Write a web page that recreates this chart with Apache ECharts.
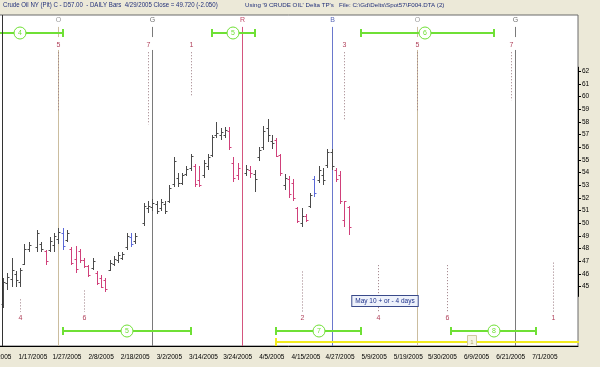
<!DOCTYPE html>
<html><head><meta charset="utf-8">
<script src="https://cdn.jsdelivr.net/npm/echarts@6/dist/echarts.min.js"></script>
<style>html,body{margin:0;padding:0;background:#ece9d8;}#c{width:600px;height:367px;}</style>
</head><body><div id="c"></div>
<script>
// ---------- data ----------
const dateLabels = ['1/5/2005','1/17/2005','1/27/2005','2/8/2005','2/18/2005','3/2/2005','3/14/2005','3/24/2005','4/5/2005','4/15/2005','4/27/2005','5/9/2005','5/19/2005','5/30/2005','6/9/2005','6/21/2005','7/1/2005'];
const dateLabelIdx = [0,8,16,24,32,40,48,56,64,72,80,88,96,104,112,120,128];
const priceTicks = [45,46,47,48,49,50,51,52,53,54,55,56,57,58,59,60,61,62];

const barIdx   = [1,2,3,4,5,6,7, 9,10,11,12,13,14,15,16,17,18,19,20,21,22,23,24,25,26,27,28,29,30,31,32, 34,35,36,37,38,39,40,41,42,43,44,45,46,47,48,49,50,51,52,53,54,55,56, 58,59,60,61,62,63,64,65,66,67,68,69,70,71,72,73,74,75,76,77,78,79,80,81,82];
const barHigh  = [45.7,46.1,47.3,46.2,46.5,48.4,48.5, 49.5,48.5,47.9,48.9,49.2,49.6,49.6,49.5,48.1,48.2,48.0,47.3,46.7,47.3,46.2,45.9,45.7,47.1,47.4,47.7,47.7,49.2,49.2,49.2, 51.6,51.8,51.9,51.8,51.9,51.8,53.0,55.2,54.0,54.0,54.5,55.5,54.7,54.5,55.0,55.5,57.0,58.0,57.5,57.6,57.6,55.2,54.8, 54.6,54.5,54.2,56.0,57.7,58.2,57.0,56.7,55.5,53.9,53.7,53.5,51.3,51.2,50.7,52.4,53.7,54.5,54.4,55.9,55.9,54.4,54.1,51.8,51.4];
const barLow   = [43.3,44.7,45.0,45.0,45.0,46.7,47.7, 47.7,47.7,46.7,47.7,47.7,48.4,47.9,48.5,46.7,46.1,46.9,46.5,45.8,46.3,45.1,44.9,44.6,46.2,46.6,46.9,47.1,47.9,48.1,48.4, 49.8,50.8,51.0,50.7,51.0,50.7,51.6,52.9,52.9,53.0,53.7,54.1,52.9,52.9,53.6,54.2,55.2,56.7,56.6,56.7,55.8,53.3,53.4, 53.7,53.6,52.5,54.9,55.8,56.4,55.9,55.2,53.7,52.6,52.0,51.8,50.0,49.7,50.1,51.2,52.1,53.2,53.0,54.4,54.2,53.3,51.5,49.7,49.1];
const barOpen  = [43.6,45.3,45.6,46.0,45.4,46.8,48.0, 48.1,48.4,47.8,47.9,48.3,48.8,49.2,48.7,48.0,47.2,47.8,47.1,46.6,46.5,46.1,45.7,45.5,46.3,46.8,47.1,47.3,48.1,48.9,48.6, 50.0,51.2,51.3,51.5,51.2,51.5,51.8,53.1,53.6,53.2,53.9,54.4,54.5,53.4,53.8,54.5,55.4,57.0,57.0,57.0,57.3,54.8,53.8, 54.0,54.2,53.9,55.2,56.0,57.5,56.5,56.6,55.4,53.0,53.5,53.2,51.2,50.0,50.6,51.4,53.5,53.4,53.8,54.6,55.6,54.2,53.8,50.3,51.3];
const barClose = [45.4,45.8,46.3,45.5,46.3,48.0,48.3, 49.2,48.0,47.0,48.6,49.0,49.3,48.2,49.2,46.9,46.4,47.1,46.6,45.9,47.0,45.3,45.0,44.8,46.9,47.2,47.5,47.6,49.0,48.4,49.0, 51.4,51.4,51.6,51.0,51.7,51.0,52.8,54.9,53.2,53.8,54.3,55.3,53.1,53.0,54.8,55.2,56.8,57.1,57.2,57.4,56.0,53.6,54.4, 54.3,54.0,53.5,55.8,57.3,57.0,56.3,55.3,54.0,53.6,52.3,52.0,50.2,50.6,50.3,52.2,52.4,54.2,53.4,55.6,54.5,53.5,51.8,51.77,49.72];
const barKind  = ['k','k','k','k','k','k','k', 'k','k','r','k','k','k','b','k','r','r','r','r','r','k','r','r','r','k','k','k','k','k','b','k', 'k','k','k','k','k','k','k','k','k','k','k','k','r','r','k','k','k','k','k','k','r','r','r', 'k','r','k','k','k','k','k','r','r','k','r','r','r','k','r','k','b','k','k','k','k','r','r','r','r'];

const cycleIdx    = [14,36,57,78,98,121];
const cycleLetter = ['O','G','R','B','O','G'];

const topNumIdx  = [14,35,45,81,98,120];
const topNumText = ['5','7','1','3','5','7'];
const topDotLow  = [58.9,57.8,60.0,58.2,58.9,59.7];

const botNumIdx  = [5,20,71,89,105,130];
const botNumText = ['4','6','2','4','6','1'];
const botDotHigh = [44.0,44.7,46.2,46.7,46.7,46.9];

const greenTopStart = [-5,50,85];
const greenTopEnd   = [15,60,116];
const greenTopMid   = [5,55,100];
const greenTopText  = ['4','5','6'];

const greenBotStart = [15,65,106];
const greenBotEnd   = [45,85,126];
const greenBotMid   = [30,75,116];
const greenBotText  = ['5','7','8'];

const yellowStart = [65];
const yellowEnd   = [157];
const yellowMid   = [111];
const yellowText  = ['1'];

const noteIdx   = [90.6];
const notePrice = [43.85];
const noteText  = ['May 10 + or - 4 days'];

// ---------- layout / style ----------
const FONT = '"Liberation Sans", Arial, sans-serif';
const XMIN = 0, XMAX = 135.77, YMIN = 40.32, YMAX = 66.44;
const LEVEL = {letter:66.05, stemTop:65.5, stemBot:64.7, mainTop:63.68, topNum:64.1, dotTop:63.5,
               botNum:42.5, dotBot:43.0, greenTop:65.0, greenBot:41.5, yellow:40.6};
const BAR_COL = {k:'#4a4a4a', r:'#d0407a', b:'#5a68d8'};
const CYC_COL = {O:'#cbbd9f', G:'#7a7a7a', R:'#d4557e', B:'#6a78cc'};
const CYC_TXT = {O:'#9a9a9a', G:'#707070', R:'#c04868', B:'#5a68b8'};
const GREEN = '#6fe035';

function crisp(v){ return Math.round(v) + 0.5; }

function renderBar(params, api){
  const x = api.value(0);
  const h = api.coord([x, api.value(2)]), l = api.coord([x, api.value(3)]);
  const o = api.coord([x, api.value(1)]), c = api.coord([x, api.value(4)]);
  const px = crisp(h[0]);
  const col = BAR_COL[barKind[params.dataIndex]];
  const st = {stroke: col, lineWidth: 1};
  return {type:'group', children:[
    {type:'line', shape:{x1:px, y1:Math.round(h[1]), x2:px, y2:Math.round(l[1])}, style:st},
    {type:'line', shape:{x1:px-2, y1:crisp(o[1]), x2:px, y2:crisp(o[1])}, style:st},
    {type:'line', shape:{x1:px, y1:crisp(c[1]), x2:px+2, y2:crisp(c[1])}, style:st}
  ]};
}

function renderCycle(params, api){
  const k = params.dataIndex, x = api.value(0), L = cycleLetter[k];
  const t = api.coord([x, LEVEL.letter]);
  const px = crisp(t[0]);
  const s1 = api.coord([x, LEVEL.stemTop]), s2 = api.coord([x, LEVEL.stemBot]);
  const m1 = api.coord([x, LEVEL.mainTop]), b = api.coord([x, YMIN]);
  const st = {stroke: CYC_COL[L], lineWidth: 1};
  const ch = [{type:'text', style:{text:L, x:px, y:t[1], align:'center', verticalAlign:'middle', fontSize:7, fontFamily:FONT, fill:CYC_TXT[L]}}];
  if (L === 'O' || L === 'G') {
    ch.push({type:'line', shape:{x1:px, y1:s1[1], x2:px, y2:s2[1]}, style:st});
    ch.push({type:'line', shape:{x1:px, y1:m1[1], x2:px, y2:b[1]}, style:st});
  } else {
    ch.push({type:'line', shape:{x1:px, y1:s1[1], x2:px, y2:b[1]}, style:st});
  }
  return {type:'group', children:ch};
}

function renderNums(idxArr, textArr, rangeArr, isTop){
  return function(params, api){
    const k = params.dataIndex, x = api.value(0);
    const t = api.coord([x, isTop ? LEVEL.topNum : LEVEL.botNum]);
    const px = crisp(t[0]);
    const d1 = api.coord([x, isTop ? LEVEL.dotTop : rangeArr[k]]);
    const d2 = api.coord([x, isTop ? rangeArr[k] : LEVEL.dotBot]);
    return {type:'group', children:[
      {type:'line', shape:{x1:px, y1:d1[1], x2:px, y2:d2[1]}, style:{stroke:'#9a7a80', lineWidth:1, lineDash:[1,2]}},
      {type:'text', style:{text:textArr[k], x:px, y:t[1], align:'center', verticalAlign:'middle', fontSize:7, fontFamily:FONT, fill:'#b0405a'}}
    ]};
  };
}

function renderRange(startArr, endArr, midArr, textArr, level, color, box){
  return function(params, api){
    const k = params.dataIndex;
    const a = api.coord([startArr[k], level]), e = api.coord([endArr[k], level]), m = api.coord([midArr[k], level]);
    const y = Math.round(a[1]);
    const st = {stroke: color, lineWidth: 2};
    const ch = [
      {type:'line', shape:{x1:a[0], y1:y, x2:e[0], y2:y}, style:st},
      {type:'line', shape:{x1:Math.round(a[0]), y1:y-4, x2:Math.round(a[0]), y2:y+4}, style:st},
      {type:'line', shape:{x1:Math.round(e[0]), y1:y-4, x2:Math.round(e[0]), y2:y+4}, style:st}
    ];
    if (box) {
      ch.push({type:'rect', shape:{x:Math.round(m[0])-4.5, y:y-6.5, width:9, height:12}, style:{fill:'#f6f4e4', stroke:'#cfc9a0', lineWidth:1}});
      ch.push({type:'text', style:{text:textArr[k], x:Math.round(m[0]), y:y, align:'center', verticalAlign:'middle', fontSize:6, fontFamily:FONT, fill:'#b0a870'}});
    } else {
      ch.push({type:'circle', shape:{cx:Math.round(m[0]), cy:y, r:6}, style:{fill:'#fff', stroke:color, lineWidth:1}});
      ch.push({type:'text', style:{text:textArr[k], x:Math.round(m[0]), y:y+0.5, align:'center', verticalAlign:'middle', fontSize:7, fontFamily:FONT, fill:color}});
    }
    return {type:'group', children:ch};
  };
}

function renderNote(params, api){
  const k = params.dataIndex;
  const p = api.coord([noteIdx[k], notePrice[k]]);
  return {type:'text', style:{text:noteText[k], x:Math.round(p[0]), y:Math.round(p[1]), align:'center', verticalAlign:'middle',
    fontSize:6.5, fontFamily:FONT, fill:'#1c2f8a', backgroundColor:'#eef2fb', borderColor:'#3a4a8a', borderWidth:1, padding:[2,3,1,3]}};
}

const chart = echarts.init(document.getElementById('c'), null, {renderer:'canvas', width:600, height:367});
const S = 576 / (XMAX - 0.77);
const gridLeft = 2 - (0.77 - XMIN) * S;

chart.setOption({
  animation:false,
  backgroundColor:'#ece9d8',
  textStyle:{fontFamily:FONT},
  grid:{left:gridLeft, top:15, width:578 - gridLeft, height:331, show:true, backgroundColor:'#ffffff', borderColor:'#6a6a6a', borderWidth:1,
        containLabel:false, outerBoundsMode:'none'},
  xAxis:{type:'value', min:XMIN, max:XMAX, splitLine:{show:false},
    axisLine:{show:true, onZero:false, lineStyle:{color:'#000', width:1}},
    axisTick:{show:false},
    axisLabel:{customValues:dateLabelIdx, formatter:function(v){ return dateLabels[dateLabelIdx.indexOf(v)]; },
      fontSize:6.5, color:'#000', margin:8, fontFamily:FONT, hideOverlap:false}},
  yAxis:{type:'value', position:'right', min:YMIN, max:YMAX, splitLine:{show:false},
    axisLine:{show:false, onZero:false},
    axisTick:{show:true, customValues:priceTicks, length:3, inside:false, lineStyle:{color:'#000'}},
    axisLabel:{customValues:priceTicks, fontSize:6.5, color:'#000', margin:4, fontFamily:FONT},
    name:'Price', nameLocation:'middle', nameRotate:-90, nameGap:20, nameTextStyle:{fontSize:7, color:'#000', fontFamily:FONT}},
  graphic:[
    {type:'text', x:3, y:2, scaleX:0.87, style:{text:'Crude Oil NY (Pit) C - D57.00  - DAILY Bars  4/29/2005 Close = 49.720 (-2.050)', fontSize:7, fontFamily:FONT, fill:'#22307a'}},
    {type:'text', left:245, top:2, style:{text:"Using '9 CRUDE OIL' Delta TP's   File: C:\\Gd\\Delts\\Spot57\\F004.DTA (2)", fontSize:6.2, fontFamily:FONT, fill:'#22307a'}},
    {type:'line', shape:{x1:2.5, y1:15, x2:2.5, y2:346}, style:{stroke:'#333', lineWidth:1}, z:100}
  ],
  series:[
    {type:'custom', name:'cycles', renderItem:renderCycle, clip:false, z:3,
      data:cycleIdx.map(function(x,k){ return [x, LEVEL.letter, k]; }), encode:{x:0, y:1}},
    {type:'custom', name:'topNums', renderItem:renderNums(topNumIdx, topNumText, topDotLow, true), clip:false, z:4,
      data:topNumIdx.map(function(x,k){ return [x, LEVEL.topNum, k]; }), encode:{x:0, y:1}},
    {type:'custom', name:'botNums', renderItem:renderNums(botNumIdx, botNumText, botDotHigh, false), clip:false, z:4,
      data:botNumIdx.map(function(x,k){ return [x, LEVEL.botNum, k]; }), encode:{x:0, y:1}},
    {type:'custom', name:'price', renderItem:renderBar, z:5,
      data:barIdx.map(function(x,k){ return [x, barOpen[k], barHigh[k], barLow[k], barClose[k]]; }), encode:{x:0, y:[1,2,3,4]},
      markLine:{silent:true, symbol:'none', label:{show:false}, lineStyle:{color:'#000', type:'solid', width:1},
        data:[[{coord:[XMAX, 44.2]}, {coord:[XMAX, 62.35]}]]}},
    {type:'custom', name:'greenTop', renderItem:renderRange(greenTopStart, greenTopEnd, greenTopMid, greenTopText, LEVEL.greenTop, GREEN, false), clip:true, z:6,
      data:greenTopMid.map(function(x,k){ return [x, LEVEL.greenTop, k]; }), encode:{x:0, y:1}},
    {type:'custom', name:'greenBot', renderItem:renderRange(greenBotStart, greenBotEnd, greenBotMid, greenBotText, LEVEL.greenBot, GREEN, false), clip:true, z:6,
      data:greenBotMid.map(function(x,k){ return [x, LEVEL.greenBot, k]; }), encode:{x:0, y:1}},
    {type:'custom', name:'yellow', renderItem:renderRange(yellowStart, yellowEnd, yellowMid, yellowText, LEVEL.yellow, '#f2ec1e', true), clip:true, z:6,
      data:yellowMid.map(function(x,k){ return [x, LEVEL.yellow, k]; }), encode:{x:0, y:1}},
    {type:'custom', name:'note', renderItem:renderNote, clip:false, z:7,
      data:noteIdx.map(function(x,k){ return [x, notePrice[k], k]; }), encode:{x:0, y:1}}
  ]
});
</script>
</body></html>
